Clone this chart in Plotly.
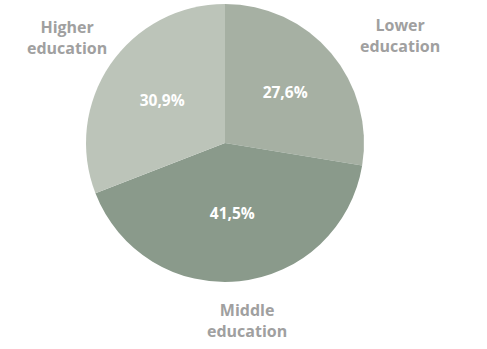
import plotly.graph_objects as go

categories = ["Lower education", "Middle education", "Higher education"]
values = [27.6, 41.5, 30.9]
value_labels = ["27,6%", "41,5%", "30,9%"]
colors = ["#a6b0a3", "#8a9a8b", "#bcc4b9"]

W, H = 487, 349
cx, cy, r = 225, 143, 139

fig = go.Figure(go.Pie(
    labels=categories,
    values=values,
    text=value_labels,
    texttemplate="%{text}",
    textposition="inside",
    insidetextorientation="horizontal",
    textfont=dict(family="Open Sans", size=15.5, color="white", weight="bold"),
    marker=dict(colors=colors, line=dict(width=0)),
    sort=False,
    direction="clockwise",
    rotation=0,
    showlegend=False,
    hoverinfo="label+text",
    domain=dict(x=[(cx - r) / W, (cx + r) / W], y=[1 - (cy + r) / H, 1 - (cy - r) / H]),
))

label_pos = {
    "Lower education": (400, 35),
    "Middle education": (247, 320),
    "Higher education": (67, 37),
}
for cat in categories:
    x, y = label_pos[cat]
    fig.add_annotation(
        x=x / W, y=1 - y / H, xref="paper", yref="paper",
        xanchor="center", yanchor="middle",
        text="<br>".join(cat.split(" ")),
        showarrow=False, align="center",
        font=dict(family="Open Sans", size=16, color="#a0a0a0", weight="bold"),
    )

fig.update_layout(
    width=W, height=H,
    margin=dict(l=0, r=0, t=0, b=0),
    paper_bgcolor="white", plot_bgcolor="white",
)
fig.write_html("out.html", config={"displayModeBar": False},
               post_script="document.body.style.margin='0';")
